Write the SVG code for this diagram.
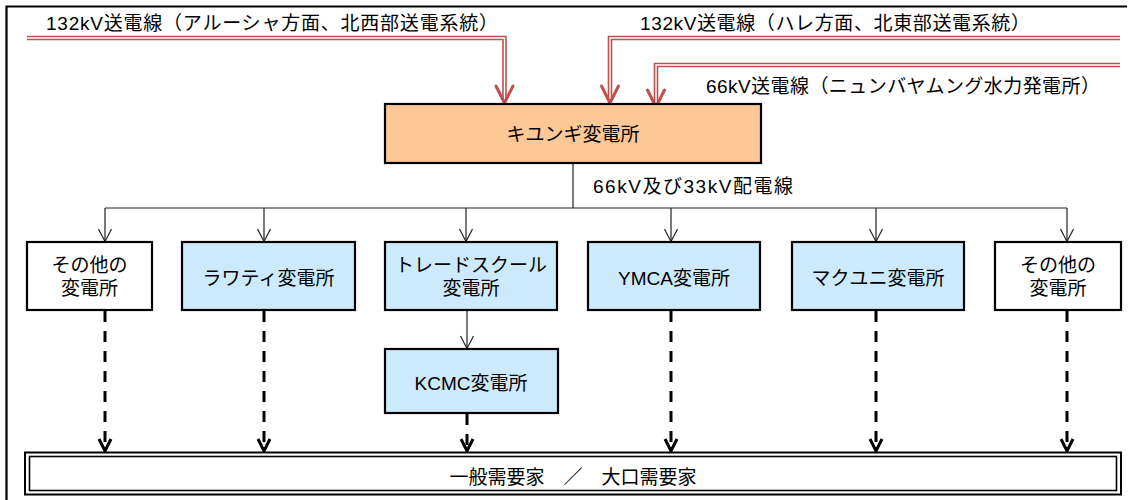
<svg xmlns="http://www.w3.org/2000/svg" width="1134" height="500" viewBox="0 0 1134 500">
<defs>
<style>
text{font-family:"Liberation Sans","Noto Sans CJK JP",sans-serif;font-size:19px;fill:#000}
.c{text-anchor:middle}
.box{stroke:#000;stroke-width:2.2}
.blue{fill:#cdeafc}
.white{fill:#fff}
.red-o{fill:none;stroke:#c0504d;stroke-width:4.6}
.red-i{fill:none;stroke:#fff;stroke-width:1.4}
.red-ah{fill:none;stroke:#c0504d;stroke-width:3;stroke-linecap:round;stroke-linejoin:round}
.thin{fill:none;stroke:#222;stroke-width:1.2}
.dash{fill:none;stroke:#000;stroke-width:3;stroke-dasharray:11 9}
.ah{fill:none;stroke:#000;stroke-width:3;stroke-linejoin:miter}
</style>
</defs>
<rect x="0" y="0" width="1134" height="500" fill="#fff"/>
<!-- frame -->
<path d="M6.5,500 V6.5 H1127" fill="none" stroke="#000" stroke-width="2.2"/>

<!-- feeder labels -->
<text x="46" y="30" textLength="452" lengthAdjust="spacing">132kV送電線（アルーシャ方面、北西部送電系統）</text>
<text x="640" y="30" textLength="390" lengthAdjust="spacing">132kV送電線（ハレ方面、北東部送電系統）</text>
<text x="706" y="93" textLength="394" lengthAdjust="spacing">66kV送電線（ニュンバヤムング水力発電所）</text>

<g id="connectors">
  <!-- red transmission lines -->
  <path class="red-o" d="M27,38 H504.5 V101"/>
  <path class="red-i" d="M27,38 H504.5 V101"/>
  <path class="red-o" d="M1120,38 H610 V101"/>
  <path class="red-i" d="M1120,38 H610 V101"/>
  <path class="red-o" d="M1120,65 H656 V104"/>
  <path class="red-i" d="M1120,65 H656 V104"/>
  <path class="red-ah" d="M496,86 L504.5,103 L513,86"/>
  <path class="red-ah" d="M601.5,86 L610,103 L618.5,86"/>
  <path class="red-ah" d="M647.5,90 L656,107 L664.5,90"/>

  <!-- distribution -->
  <path class="thin" d="M573,163 V208 M105,208 H1067"/>
  <path class="thin" d="M105,208 V241 M264,208 V241 M466,208 V241 M671,208 V241 M876,208 V241 M1067,208 V241 M467,311 V348"/>
  <path class="thin" d="M98.5,229 L105,241.5 L111.5,229 M257.5,229 L264,241.5 L270.5,229 M459.5,229 L466,241.5 L472.5,229 M664.5,229 L671,241.5 L677.5,229 M869.5,229 L876,241.5 L882.5,229 M1060.5,229 L1067,241.5 L1073.5,229 M460.5,336 L467,348.5 L473.5,336"/>

  <!-- dashed supply lines -->
  <path class="dash" d="M105,311 V450 M264,311 V450 M671,311 V450 M876,311 V450 M1067,311 V450"/>
  <path class="dash" d="M467,414 V450"/>
  <path class="ah" d="M99,439 L105,451 L111,439 M258,439 L264,451 L270,439 M461,439 L467,451 L473,439 M665,439 L671,451 L677,439 M870,439 L876,451 L882,439 M1061,439 L1067,451 L1073,439"/>
</g>

<g id="n-kiyungi">
  <rect class="box" x="385" y="104" width="376" height="59" fill="#fdc896"/>
  <text class="c" x="573" y="141">キユンギ変電所</text>
</g>
<text x="593" y="193" textLength="200" lengthAdjust="spacing">66kV及び33kV配電線</text>

<g id="n-other1">
  <rect class="box white" x="27" y="242" width="125" height="68"/>
  <text class="c" x="89.5" y="272">その他の</text>
  <text class="c" x="89.5" y="295">変電所</text>
</g>
<g id="n-lawate">
  <rect class="box blue" x="182" y="242" width="173" height="68"/>
  <text class="c" x="268.5" y="285">ラワティ変電所</text>
</g>
<g id="n-tradeschool">
  <rect class="box blue" x="385" y="242" width="172" height="68"/>
  <text class="c" x="471" y="272">トレードスクール</text>
  <text class="c" x="471" y="295">変電所</text>
</g>
<g id="n-ymca">
  <rect class="box blue" x="588" y="242" width="172" height="68"/>
  <text class="c" x="674" y="285">YMCA変電所</text>
</g>
<g id="n-makuyuni">
  <rect class="box blue" x="792" y="242" width="172" height="68"/>
  <text class="c" x="878" y="285">マクユニ変電所</text>
</g>
<g id="n-other2">
  <rect class="box white" x="995" y="242" width="126" height="68"/>
  <text class="c" x="1058" y="272">その他の</text>
  <text class="c" x="1058" y="295">変電所</text>
</g>
<g id="n-kcmc">
  <rect class="box blue" x="385" y="349" width="173" height="64"/>
  <text class="c" x="471" y="390">KCMC変電所</text>
</g>
<g id="n-consumers">
  <rect x="25" y="452.5" width="1096" height="42" fill="#fff" stroke="#000" stroke-width="2"/>
  <rect x="29.5" y="456.5" width="1087" height="34" fill="none" stroke="#000" stroke-width="1.6"/>
  <text class="c" x="573" y="484">一般需要家　／　大口需要家</text>
</g>
</svg>
